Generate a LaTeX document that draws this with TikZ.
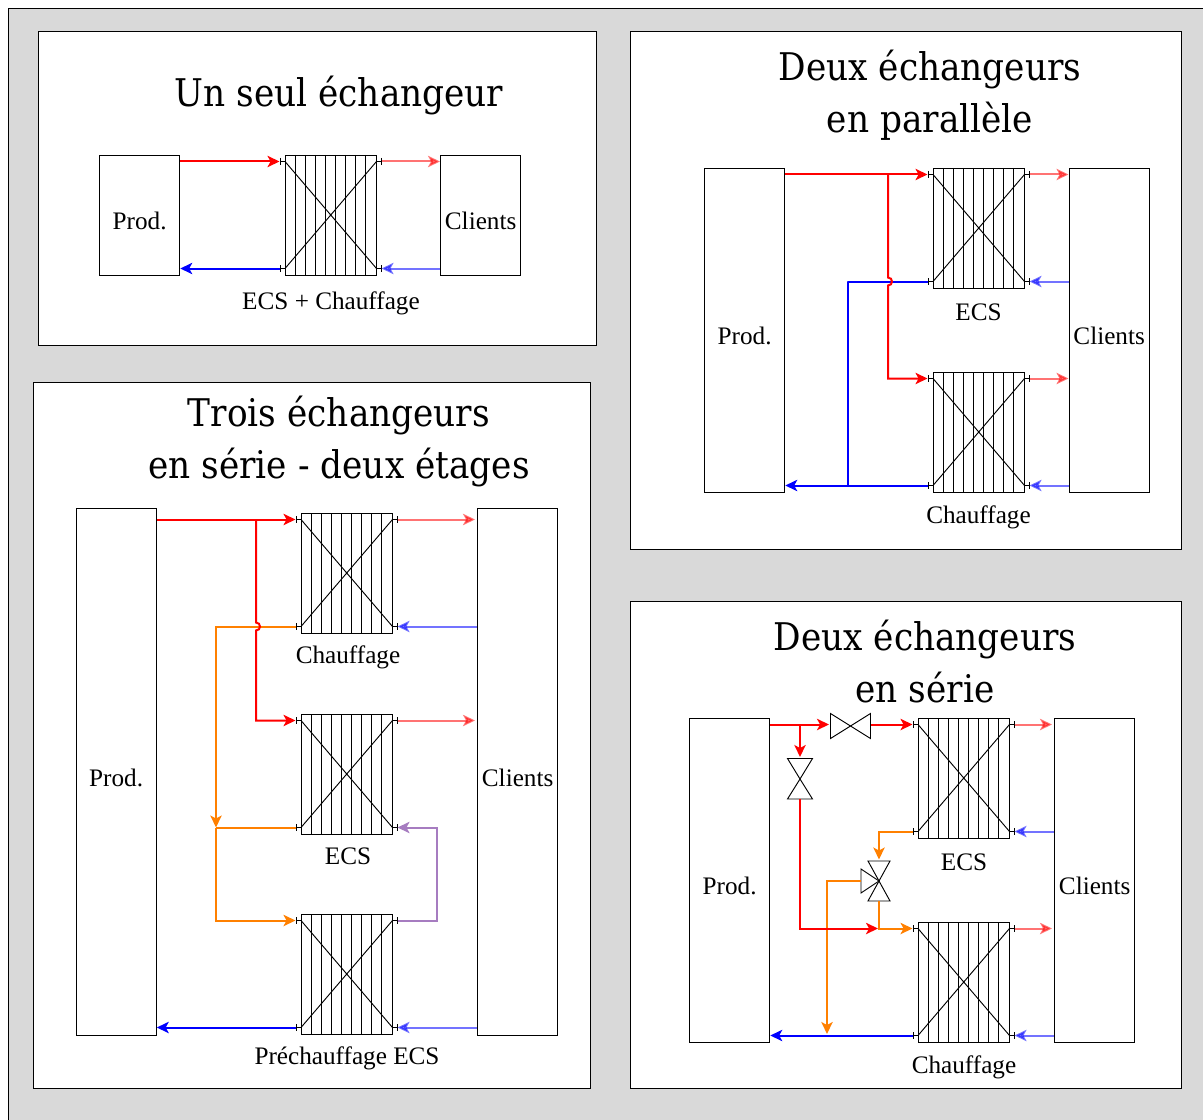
\documentclass[tikz,border=0pt]{standalone}
\usepackage{fontspec}
\setmainfont{Liberation Serif}
\newfontfamily\titlefont[FakeStretch=0.9]{DejaVu Serif}
\usetikzlibrary{arrows.meta,calc}
\definecolor{bggray}{HTML}{D9D9D9}
\definecolor{orangeflow}{HTML}{FF8000}
\definecolor{purpleflow}{HTML}{A67CC0}
\newcommand{\boxtext}[1]{\raisebox{-4.75pt}[12pt][0pt]{#1}}
\tikzset{
  x=0.75pt,y=-0.75pt,
  panel/.style={draw=black,fill=white,line width=0.7pt,anchor=north west,inner sep=0pt},
  unitbox/.style={draw=black,fill=white,line width=0.7pt,anchor=north west,inner sep=0pt,font=\fontsize{18.9pt}{22pt}\selectfont},
  hxbox/.style={draw=black,line width=0.7pt,anchor=north west,inner sep=0pt,minimum width=68.5pt,minimum height=90pt},
  lab/.style={font=\fontsize{18.9pt}{22pt}\selectfont,inner sep=0pt},
  ttl/.style={font=\fontsize{28.6pt}{38.7pt}\titlefont,align=center,inner sep=0pt},
  flow/.style={line width=1.5pt,-{Stealth[length=9pt,width=8.5pt,inset=2.3pt]}},
  flowplain/.style={line width=1.5pt},
  hot/.style={flow,draw=red},
  hotlight/.style={flow,draw=red,draw opacity=.55,fill opacity=.55},
  cold/.style={flow,draw=blue},
  coldlight/.style={flow,draw=blue,draw opacity=.55,fill opacity=.55},
  warm/.style={flow,draw=orangeflow},
  valveline/.style={draw=black,line width=0.7pt,fill=white},
}
% exchanger: name, left x, top y
\newcommand{\hx}[3]{%
  \node[hxbox] (#1) at (#2,#3) {};
  \foreach \i in {1,...,8} {\draw[line width=0.7pt] ($(#1.north west)+(\i*10,0)$) -- ($(#1.south west)+(\i*10,0)$);}
  \coordinate (#1-tl) at (#2,#3+6.5);
  \coordinate (#1-bl) at (#2,#3+113.5);
  \coordinate (#1-tr) at (#2+91.5,#3+6.5);
  \coordinate (#1-br) at (#2+91.5,#3+113.5);
  \draw[line width=0.7pt] (#1-tl) -- (#1-br) (#1-bl) -- (#1-tr);
  \draw[line width=0.7pt] (#1-tl) -- ++(-5,0) ++(0,-3.5) -- ++(0,7);
  \draw[line width=0.7pt] (#1-bl) -- ++(-5,0) ++(0,-3.5) -- ++(0,7);
  \draw[line width=0.7pt] (#1-tr) -- ++(5,0) ++(0,-3.5) -- ++(0,7);
  \draw[line width=0.7pt] (#1-br) -- ++(5,0) ++(0,-3.5) -- ++(0,7);
}
\begin{document}
\begin{tikzpicture}
\useasboundingbox (0,0) rectangle (1203,1120);
\fill[bggray,draw=black,line width=0.75pt] (8,8.5) rectangle (1215,1135);
\clip (0,0) rectangle (1203,1120);
% panels
\node[panel,minimum width=418.5pt,minimum height=235pt] (p1) at (38,31.5) {};
\node[panel,minimum width=413.25pt,minimum height=388pt] (p2) at (630,31.5) {};
\node[panel,minimum width=418pt,minimum height=529.5pt] (p3) at (32.5,382) {};
\node[panel,minimum width=413.25pt,minimum height=365.25pt] (p4) at (630,600.5) {};
% ---------- Panel 1
\node[ttl] (t1) at (339,95) {Un seul échangeur};
\node[unitbox,minimum width=60.25pt,minimum height=90pt] (prodA) at (99,155) {\boxtext{Prod.}};
\node[unitbox,minimum width=60.25pt,minimum height=90pt] (cliA) at (440,155) {\boxtext{Clients}};
\hx{hA}{285}{155}
\node[lab] (lA) at (331,303) {ECS + Chauffage};
\draw[hot] (prodA.east |- hA-tl) -- ($(hA-tl)+(-5.5,0)$);
\draw[hotlight] ($(hA-tr)+(5,0)$) -- (cliA.west |- hA-tr);
\draw[coldlight] (cliA.west |- hA-br) -- ($(hA-br)+(5,0)$);
\draw[cold] ($(hA-bl)+(-5,0)$) -- (prodA.east |- hA-bl);
% ---------- Panel 2
\node[ttl] (t2) at (930,95) {Deux échangeurs\\en parallèle};
\node[unitbox,minimum width=60.25pt,minimum height=243pt] (prodB) at (704,168) {\boxtext{Prod.}};
\node[unitbox,minimum width=60.25pt,minimum height=243pt] (cliB) at (1068.5,168) {\boxtext{Clients}};
\hx{hB}{933}{168}
\hx{hC}{933}{372}
\node[lab] (lB) at (978.5,312) {ECS};
\node[lab] (lC) at (978.5,517) {Chauffage};
\draw[cold] ($(hC-bl)+(-5,0)$) -- (prodB.east |- hC-bl);
\draw[flowplain,blue,line join=round] ($(hB-bl)+(-5,0)$) -- (848,281.5) -- (848,485.5);
\draw[hot] (prodB.east |- hB-tl) -- ($(hB-tl)+(-5.5,0)$);
\draw[hot] (888,174.5) -- (888,277.5) .. controls (893.3,277.5) and (893.3,285.5) .. (888,285.5) -- (888,378.5) -- ($(hC-tl)+(-5.5,0)$);
\draw[hotlight] ($(hB-tr)+(5,0)$) -- (cliB.west |- hB-tr);
\draw[hotlight] ($(hC-tr)+(5,0)$) -- (cliB.west |- hC-tr);
\draw[coldlight] (cliB.west |- hB-br) -- ($(hB-br)+(5,0)$);
\draw[coldlight] (cliB.west |- hC-br) -- ($(hC-br)+(5,0)$);
% ---------- Panel 3
\node[ttl] (t3) at (339,441.5) {Trois échangeurs\\en série - deux étages};
\node[unitbox,minimum width=60.25pt,minimum height=395.25pt] (prodC) at (75.5,508) {\boxtext{Prod.}};
\node[unitbox,minimum width=60.25pt,minimum height=395.25pt] (cliC) at (477,508) {\boxtext{Clients}};
\hx{hD}{301}{513}
\hx{hE}{301}{714}
\hx{hF}{301}{914}
\node[lab] (lD) at (348,657) {Chauffage};
\node[lab] (lE) at (348,856) {ECS};
\node[lab] (lF) at (347,1058) {Préchauffage ECS};
\draw[warm] ($(hD-bl)+(-5,0)$) -- (216,626.5) -- (216,827.5);
\draw[flowplain,orangeflow] (216,827.5) -- ($(hE-bl)+(-5,0)$);
\draw[warm] (216,827.5) -- (216,920.5) -- ($(hF-tl)+(-5.5,0)$);
\draw[hot] (prodC.east |- hD-tl) -- ($(hD-tl)+(-5.5,0)$);
\draw[hot] (256,519.5) -- (256,622.5) .. controls (261.3,622.5) and (261.3,630.5) .. (256,630.5) -- (256,720.5) -- ($(hE-tl)+(-5.5,0)$);
\draw[hotlight] ($(hD-tr)+(5,0)$) -- ($(cliC.west |- hD-tr)+(-2,0)$);
\draw[hotlight] ($(hE-tr)+(5,0)$) -- ($(cliC.west |- hE-tr)+(-2,0)$);
\draw[coldlight] (cliC.west |- hD-br) -- ($(hD-br)+(5,0)$);
\draw[flow,draw=purpleflow] ($(hF-tr)+(5,0)$) -- (437,920.5) -- (437,827.5) -- ($(hE-br)+(5,0)$);
\draw[coldlight] (cliC.west |- hF-br) -- ($(hF-br)+(5,0)$);
\draw[cold] ($(hF-bl)+(-5,0)$) -- (prodC.east |- hF-bl);
% ---------- Panel 4
\node[ttl] (t4) at (925,661.5) {Deux échangeurs\\en série};
\node[unitbox,minimum width=60.25pt,minimum height=243pt] (prodD) at (689,718) {\boxtext{Prod.}};
\node[unitbox,minimum width=60.25pt,minimum height=243pt] (cliD) at (1054,718) {\boxtext{Clients}};
\hx{hG}{918}{718}
\hx{hH}{918}{922}
\node[lab] (lG) at (964,862) {ECS};
\node[lab] (lH) at (964,1067) {Chauffage};
% valves
\coordinate (vh) at (850.5,726);
\coordinate (vv) at (800,779);
\coordinate (vt) at (879,881);
\draw[valveline] (vh) -- (830.5,713.5) -- (830.5,738.5) -- cycle;
\draw[valveline] (vh) -- (870.5,713.5) -- (870.5,738.5) -- cycle;
\draw[valveline] (vv) -- (787.5,758.5) -- (812.5,758.5) -- cycle;
\draw[valveline] (vv) -- (787.5,799) -- (812.5,799) -- cycle;
\draw[valveline] (vt) -- (868,861) -- (890,861) -- cycle;
\draw[valveline] (vt) -- (868,901) -- (890,901) -- cycle;
\draw[valveline] (vt) -- (861,869) -- (861,893) -- cycle;
\draw[hot] (prodD.east |- hG-tl) -- (829,724.5);
\draw[hot] (871,724.5) -- ($(hG-tl)+(-5.5,0)$);
\draw[hot] (800,724.5) -- (800,757);
\draw[cold] ($(hH-bl)+(-5,0)$) -- (prodD.east |- hH-bl);
\draw[warm] (861,881) -- (827,881) -- (827,1034);
\draw[hot] (800,799) -- (800,928.5) -- (878,928.5);
\draw[flowplain,orangeflow] (878.5,901) -- (878.5,928.5);
\draw[warm] (878,928.5) -- ($(hH-tl)+(-5.5,0)$);
\draw[warm] ($(hG-bl)+(-5,0)$) -- (879,831.5) -- (879,859.5);
\draw[hotlight] ($(hG-tr)+(5,0)$) -- ($(cliD.west |- hG-tr)+(-2,0)$);
\draw[hotlight] ($(hH-tr)+(5,0)$) -- ($(cliD.west |- hH-tr)+(-2,0)$);
\draw[coldlight] (cliD.west |- hG-br) -- ($(hG-br)+(5,0)$);
\draw[coldlight] (cliD.west |- hH-br) -- ($(hH-br)+(5,0)$);
\end{tikzpicture}
\end{document}
